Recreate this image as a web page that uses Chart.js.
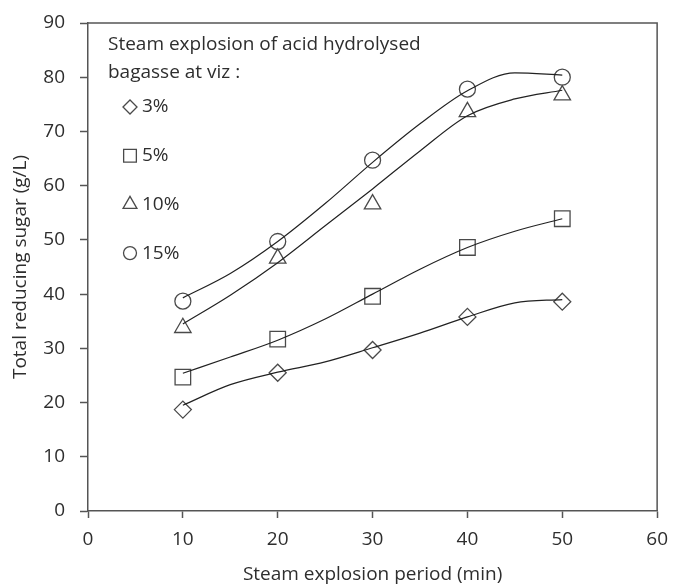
<!DOCTYPE html>
<html>
<head>
<meta charset="utf-8">
<script src="https://cdn.jsdelivr.net/npm/chart.js@4/dist/chart.umd.min.js"></script>
<style>
  html, body { margin: 0; padding: 0; background: #fff; }
  #wrap { width: 678px; height: 586px; }
</style>
</head>
<body>
<div id="wrap"><canvas id="sugarChart" width="678" height="586"></canvas></div>
<script>
// measured points (min vs g/L)
const periods = [10, 20, 30, 40, 50];
const sugar3 = [18.7, 25.5, 29.7, 35.8, 38.6];
const sugar5 = [24.7, 31.7, 39.6, 48.6, 53.9];
const sugar10 = [33.8, 46.6, 56.6, 73.6, 76.7];
const sugar15 = [38.7, 49.7, 64.7, 77.8, 80.0];

// fitted trend curves, every 5 min
const fitPeriods = [10, 15, 20, 25, 30, 35, 40, 45, 50];
const fit3 = [19.5, 23.3, 25.6, 27.5, 30.1, 32.8, 35.8, 38.4, 39.0];
const fit5 = [25.4, 28.4, 31.5, 35.4, 40.0, 44.6, 48.6, 51.6, 53.9];
const fit10 = [34.5, 39.8, 45.8, 52.6, 59.4, 66.4, 72.9, 76.0, 77.6];
const fit15 = [39.3, 43.8, 49.7, 56.7, 64.3, 71.4, 77.5, 80.8, 80.4];

const xTicks = [0, 10, 20, 30, 40, 50, 60];
const yTicks = [0, 10, 20, 30, 40, 50, 60, 70, 80, 90];

const legendTitle = ['Steam explosion of acid hydrolysed', 'bagasse at viz :'];
const legendLabels = ['3%', '5%', '10%', '15%'];
const legendStyles = ['rectRot', 'rect', 'triangle', 'circle'];

const FONT = '"Open Sans", Lato, sans-serif';
const textColor = '#2e2e2e';
const axisColor = '#555555';
const markColor = '#4a4a4a';
const curveColor = '#222222';

function pts(xs, ys) {
    return xs.map((x, i) => ({ x: x, y: ys[i] }));
}

function curve(label, ys) {
    return {
        label: label,
        data: pts(fitPeriods, ys),
        showLine: true,
        borderColor: curveColor,
        borderWidth: 1.2,
        pointRadius: 0,
        cubicInterpolationMode: 'monotone',
        fill: false
    };
}

function marks(label, ys, style, r) {
    return {
        label: label,
        data: pts(periods, ys),
        showLine: false,
        pointStyle: style,
        pointRadius: r,
        pointBorderColor: markColor,
        pointBackgroundColor: 'rgba(255,255,255,0)',
        pointBorderWidth: 1.3
    };
}

// рамка сверху/справа и легенда внутри графика
const framePlugin = {
    id: 'frame',
    afterDraw(chart) {
        const { ctx, chartArea } = chart;
        ctx.save();
        ctx.strokeStyle = axisColor;
        ctx.lineWidth = 1.5;
        ctx.beginPath();
        ctx.moveTo(chartArea.left, chartArea.top);
        ctx.lineTo(chartArea.right, chartArea.top);
        ctx.lineTo(chartArea.right, chartArea.bottom);
        ctx.stroke();

        ctx.fillStyle = textColor;
        ctx.font = '19px ' + FONT;
        ctx.textBaseline = 'middle';
        ctx.textAlign = 'left';
        const lx = chartArea.left + 20;
        ctx.fillText(legendTitle[0], lx, chartArea.top + 22);
        ctx.fillText(legendTitle[1], lx, chartArea.top + 50);

        legendLabels.forEach((lab, i) => {
            const y = chartArea.top + 84 + i * 48.7;
            ctx.strokeStyle = markColor;
            ctx.fillStyle = 'rgba(255,255,255,0)';
            ctx.lineWidth = 1.3;
            Chart.helpers.drawPoint(ctx, {
                pointStyle: legendStyles[i],
                radius: [7, 9, 8, 6.5][i],
                rotation: 0,
                borderWidth: 1.3
            }, lx + 22, y);
            ctx.fillStyle = textColor;
            ctx.fillText(lab, lx + 34, y);
        });
        ctx.restore();
    }
};

new Chart(document.getElementById('sugarChart'), {
    type: 'scatter',
    data: {
        datasets: [
            curve('fit 3%', fit3),
            curve('fit 5%', fit5),
            curve('fit 10%', fit10),
            curve('fit 15%', fit15),
            marks('3%', sugar3, 'rectRot', 8.5),
            marks('5%', sugar5, 'rect', 11),
            marks('10%', sugar10, 'triangle', 9.5),
            marks('15%', sugar15, 'circle', 8)
        ]
    },
    options: {
        responsive: false,
        animation: false,
        layout: { padding: { left: 0, top: 23, right: 15, bottom: 0 } },
        plugins: {
            legend: { display: false },
            tooltip: { enabled: false }
        },
        scales: {
            x: {
                type: 'linear',
                min: 0,
                max: 60,
                afterBuildTicks: (scale) => { scale.ticks = xTicks.map(v => ({ value: v })); },
                afterFit: (scale) => { scale.height = 75; },
                border: { color: axisColor, width: 1.5 },
                grid: { drawOnChartArea: false, drawTicks: true, tickLength: 7, tickColor: axisColor, tickWidth: 1.5 },
                ticks: { color: textColor, font: { family: FONT, size: 19 }, padding: 10 },
                title: {
                    display: true,
                    text: 'Steam explosion period (min)',
                    color: textColor,
                    font: { family: FONT, size: 19 },
                    padding: { top: 0, bottom: 0 }
                }
            },
            y: {
                type: 'linear',
                min: 0,
                max: 90,
                afterBuildTicks: (scale) => { scale.ticks = yTicks.map(v => ({ value: v })); },
                afterFit: (scale) => {
                    scale.width = 88;
                    scale.paddingTop = 0;
                    scale.paddingBottom = 0;
                },
                border: { color: axisColor, width: 1.5 },
                grid: { drawOnChartArea: false, drawTicks: true, tickLength: 8, tickColor: axisColor, tickWidth: 1.5 },
                ticks: { color: textColor, font: { family: FONT, size: 19 }, padding: 15 },
                title: {
                    display: true,
                    text: 'Total reducing sugar (g/L)',
                    color: textColor,
                    font: { family: FONT, size: 19 },
                    padding: { top: 9, bottom: 0 }
                }
            }
        }
    },
    plugins: [framePlugin]
});
</script>
</body>
</html>
